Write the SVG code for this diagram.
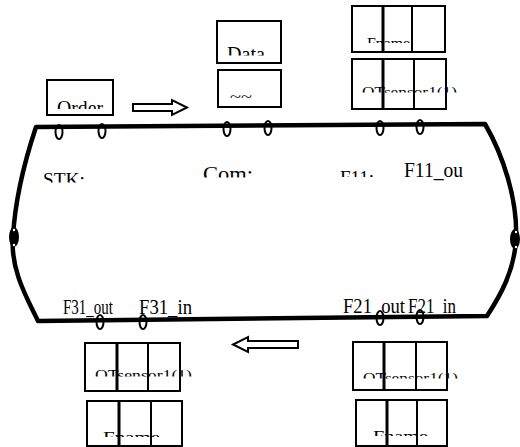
<svg xmlns="http://www.w3.org/2000/svg" width="520" height="447" viewBox="0 0 520 447">
<style>
.box{fill:#fff;stroke:#000;stroke-width:2}
.ring{fill:none;stroke:#000;stroke-width:2}
.track{fill:none;stroke:#000;stroke-width:4.5;stroke-linejoin:round}
.t{font-family:"Liberation Serif","Times New Roman",serif;fill:#000}
.arr{fill:#fff;stroke:#000;stroke-width:2}
</style>
<defs>
<clipPath id="cOrder"><rect x="40" y="90" width="80" height="19"/></clipPath>
<clipPath id="cData"><rect x="210" y="40" width="80" height="15.5"/></clipPath>
<clipPath id="cSTK"><rect x="30" y="165" width="80" height="17.5"/></clipPath>
<clipPath id="cCom"><rect x="190" y="160" width="80" height="17.5"/></clipPath>
<clipPath id="cF11"><rect x="330" y="165" width="60" height="12"/></clipPath>
<clipPath id="cA1"><rect x="340" y="30" width="120" height="13"/></clipPath>
<clipPath id="cA2"><rect x="340" y="80" width="130" height="12.5"/></clipPath>
<clipPath id="cB1"><rect x="80" y="362" width="130" height="14.5"/></clipPath>
<clipPath id="cB2"><rect x="80" y="425" width="100" height="12"/></clipPath>
<clipPath id="cC1"><rect x="350" y="365" width="130" height="13.5"/></clipPath>
<clipPath id="cC2"><rect x="350" y="424" width="100" height="12"/></clipPath>
</defs>
<g id="connectors">
<path class="track" d="M36,127 L485,124 C503,155 518,200 516,240 C514,272 500,296 487,316 L38,321 C28,300 10,270 13,237 C15,200 25,160 36,127 Z"/>
<polygon class="arr" points="133,104 172,104 172,100 187,107.5 172,115 172,111 133,111"/>
<polygon class="arr" points="298,341 248,341 248,337 233,344.5 248,352 248,348 298,348"/>
</g>
<g id="rings">
<ellipse class="ring" cx="59" cy="132" rx="3.5" ry="7"/>
<ellipse class="ring" cx="102" cy="131" rx="3.5" ry="7"/>
<ellipse class="ring" cx="227" cy="129" rx="3.5" ry="7"/>
<ellipse class="ring" cx="268" cy="128" rx="3.5" ry="7"/>
<ellipse class="ring" cx="380" cy="128" rx="3.5" ry="7"/>
<ellipse class="ring" cx="420" cy="127" rx="3.5" ry="7"/>
<ellipse class="ring" cx="100" cy="322" rx="3.5" ry="7"/>
<ellipse class="ring" cx="143" cy="322" rx="3.5" ry="7"/>
<ellipse class="ring" cx="380" cy="318" rx="3.5" ry="7"/>
<ellipse class="ring" cx="420" cy="317" rx="3.5" ry="7"/>
<ellipse cx="14" cy="237" rx="5" ry="10" fill="#000"/>
<circle cx="14" cy="230" r="1.2" fill="#fff"/><circle cx="14" cy="245" r="1.2" fill="#fff"/>
<ellipse cx="515" cy="239" rx="5" ry="10" fill="#000"/>
<circle cx="516" cy="232" r="1.2" fill="#fff"/><circle cx="516" cy="247" r="1.2" fill="#fff"/>
</g>
<g id="order">
<rect class="box" x="47" y="80" width="66" height="35"/>
<text class="t" x="57" y="115" font-size="20" textLength="46" lengthAdjust="spacingAndGlyphs" clip-path="url(#cOrder)">Order</text>
</g>
<g id="data">
<rect class="box" x="217" y="21" width="64" height="42"/>
<text class="t" x="227" y="61" font-size="20" textLength="38" lengthAdjust="spacingAndGlyphs" clip-path="url(#cData)">Data</text>
</g>
<g id="data2">
<rect class="box" x="218" y="70" width="63" height="37"/>
<text class="t" x="230" y="102" font-size="14" textLength="22" lengthAdjust="spacingAndGlyphs">~~</text>
</g>
<g id="f11a">
<rect class="box" x="352" y="6" width="93" height="46"/>
<line x1="383" y1="6" x2="383" y2="52" stroke="#000" stroke-width="3"/>
<line x1="412" y1="6" x2="412" y2="52" stroke="#000" stroke-width="2"/>
<text class="t" x="367" y="48" font-size="14" textLength="43" lengthAdjust="spacingAndGlyphs" clip-path="url(#cA1)">Fname</text>
</g>
<g id="f11b">
<rect class="box" x="352" y="59" width="94" height="50"/>
<line x1="383" y1="59" x2="383" y2="109" stroke="#000" stroke-width="3"/>
<line x1="414" y1="59" x2="414" y2="109" stroke="#000" stroke-width="2"/>
<text class="t" x="362" y="97" font-size="14" textLength="95" lengthAdjust="spacingAndGlyphs" clip-path="url(#cA2)">OTsensor1(1)</text>
</g>
<g id="f31a">
<rect class="box" x="85" y="343" width="95" height="48"/>
<line x1="117" y1="343" x2="117" y2="391" stroke="#000" stroke-width="3"/>
<line x1="148" y1="343" x2="148" y2="391" stroke="#000" stroke-width="2"/>
<text class="t" x="95" y="380" font-size="14" textLength="97" lengthAdjust="spacingAndGlyphs" clip-path="url(#cB1)">OTsensor1(1)</text>
</g>
<g id="f31b">
<rect class="box" x="87" y="401" width="95" height="45"/>
<line x1="119" y1="401" x2="119" y2="446" stroke="#000" stroke-width="3"/>
<line x1="151" y1="401" x2="151" y2="446" stroke="#000" stroke-width="2"/>
<text class="t" x="103" y="442" font-size="14" textLength="57" lengthAdjust="spacingAndGlyphs" clip-path="url(#cB2)">Fname</text>
</g>
<g id="f21a">
<rect class="box" x="353" y="342" width="94" height="48"/>
<line x1="384" y1="342" x2="384" y2="390" stroke="#000" stroke-width="3"/>
<line x1="416" y1="342" x2="416" y2="390" stroke="#000" stroke-width="2"/>
<text class="t" x="363" y="383" font-size="14" textLength="95" lengthAdjust="spacingAndGlyphs" clip-path="url(#cC1)">OTsensor1(1)</text>
</g>
<g id="f21b">
<rect class="box" x="356" y="400" width="91" height="46"/>
<line x1="387" y1="400" x2="387" y2="446" stroke="#000" stroke-width="3"/>
<line x1="417" y1="400" x2="417" y2="446" stroke="#000" stroke-width="2"/>
<text class="t" x="373" y="441" font-size="14" textLength="55" lengthAdjust="spacingAndGlyphs" clip-path="url(#cC2)">Fname</text>
</g>
<g id="labels">
<text class="t" x="43" y="186" font-size="19" textLength="42" lengthAdjust="spacingAndGlyphs" clip-path="url(#cSTK)">STK:</text>
<text class="t" x="203" y="181" font-size="20" textLength="50" lengthAdjust="spacingAndGlyphs" clip-path="url(#cCom)">Com:</text>
<text class="t" x="340" y="184" font-size="18" textLength="34" lengthAdjust="spacingAndGlyphs" clip-path="url(#cF11)">F11:</text>
<text class="t" x="404" y="177" font-size="21" textLength="59" lengthAdjust="spacingAndGlyphs">F11_ou</text>
<text class="t" x="63" y="314" font-size="21" textLength="50" lengthAdjust="spacingAndGlyphs">F31_out</text>
<text class="t" x="139" y="314" font-size="21" textLength="53" lengthAdjust="spacingAndGlyphs">F31_in</text>
<text class="t" x="343" y="313" font-size="21" textLength="62" lengthAdjust="spacingAndGlyphs">F21_out</text>
<text class="t" x="408" y="313" font-size="21" textLength="48" lengthAdjust="spacingAndGlyphs">F21_in</text>
</g>
</svg>
